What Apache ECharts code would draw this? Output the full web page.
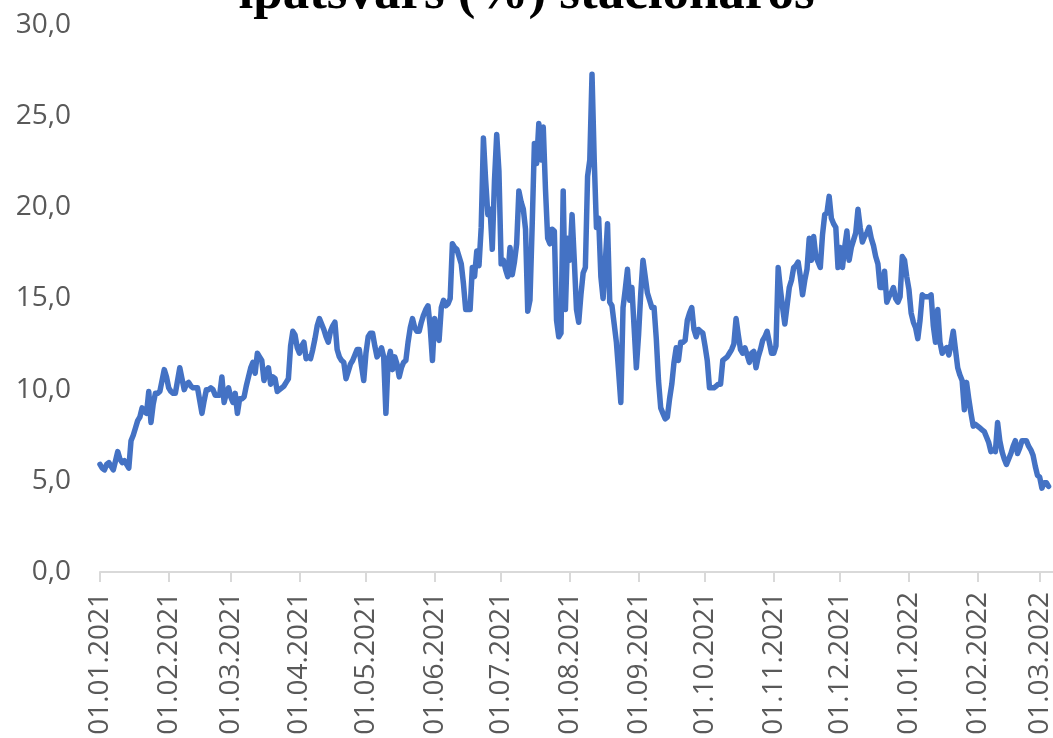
<!DOCTYPE html>
<html>
<head>
<meta charset="utf-8">
<script src="https://cdn.jsdelivr.net/npm/echarts@6/dist/echarts.min.js"></script>
<style>
  html, body { margin: 0; padding: 0; background: #fff; }
  #chart { width: 1053px; height: 738px; }
</style>
</head>
<body>
<div id="chart"></div>
<script>
// dienas vērtības pa mēnešiem (nolasītas no attēla)
const jan21 = [5.9, 5.7, 5.6, 5.9, 6.0, 5.8, 5.6, 6.1, 6.6, 6.2, 6.0, 6.1, 5.9, 5.7, 7.2, 7.5, 7.9, 8.3, 8.5, 9.0,
  8.8, 8.7, 9.9, 8.2, 9.2, 9.8, 9.8, 9.9, 10.5, 11.1, 10.7];
const feb21 = [10.1, 9.9, 9.8, 9.8, 10.5, 11.2, 10.6, 10.0, 10.3, 10.4, 10.2, 10.1, 10.1, 10.1, 9.4, 8.7, 9.4, 10.0,
  10.0, 10.1, 10.0, 9.7, 9.7, 9.7, 10.7, 9.3, 9.8, 10.1];
const mar21 = [9.6, 9.3, 9.8, 8.7, 9.5, 9.5, 9.6, 10.2, 10.7, 11.2, 11.5, 10.9, 12.0, 11.8, 11.6, 10.5, 11.0, 11.2,
  10.3, 10.7, 10.6, 9.9, 10.0, 10.1, 10.2, 10.4, 10.6, 12.4, 13.2, 13.0, 12.3];
const apr21 = [12.0, 12.4, 12.6, 11.7, 11.8, 11.7, 12.2, 12.8, 13.5, 13.9, 13.6, 13.3, 12.9, 12.6, 13.2, 13.5, 13.7,
  12.2, 11.8, 11.6, 11.5, 10.6, 11.0, 11.4, 11.6, 11.9, 12.2, 12.2, 11.3, 10.5];
const may21 = [12.0, 12.9, 13.1, 13.1, 12.4, 11.8, 12.0, 12.3, 11.8, 8.7, 11.6, 12.1, 11.1, 11.8, 11.4, 10.7, 11.2,
  11.5, 11.6, 12.6, 13.4, 13.9, 13.4, 13.2, 13.2, 13.7, 14.1, 14.4, 14.6, 13.4, 11.6];
const jun21 = [13.9, 13.2, 12.7, 14.5, 14.9, 14.6, 14.7, 15.0, 18.0, 17.8, 17.7, 17.3, 16.9, 15.8, 14.4, 14.4, 14.4,
  16.7, 16.2, 17.6, 16.8, 18.9, 23.8, 21.5, 19.6, 19.9, 17.7, 21.5, 24.0, 22.0];
const jul21 = [16.9, 17.1, 16.6, 16.2, 17.8, 16.3, 17.0, 18.0, 20.9, 20.3, 19.9, 18.8, 14.3, 14.9, 19.0, 23.5, 22.4,
  24.6, 22.6, 24.4, 21.0, 18.3, 18.0, 18.8, 18.7, 13.8, 12.9, 13.1, 20.9, 14.4, 18.3];
const aug21 = [17.1, 19.6, 17.1, 14.4, 13.7, 15.2, 16.4, 16.7, 21.7, 22.6, 27.3, 22.6, 18.9, 19.4, 16.2, 15.0, 17.0,
  19.1, 14.8, 14.6, 13.6, 12.6, 11.0, 9.3, 14.5, 15.5, 16.6, 14.9, 15.6, 13.4, 11.2];
const sep21 = [13.0, 15.3, 17.1, 16.2, 15.3, 14.9, 14.5, 14.5, 12.8, 10.5, 9.0, 8.7, 8.4, 8.5, 9.5, 10.3, 11.5, 12.3,
  11.6, 12.6, 12.6, 12.7, 13.8, 14.2, 14.5, 13.3, 12.9, 13.3, 13.2, 13.1];
const oct21 = [12.4, 11.6, 10.1, 10.1, 10.1, 10.2, 10.3, 10.3, 11.6, 11.7, 11.8, 12.0, 12.2, 12.5, 13.9, 13.0, 12.2,
  12.0, 12.3, 11.9, 11.5, 12.0, 12.1, 11.2, 11.8, 12.2, 12.7, 12.9, 13.2, 12.6, 12.0];
const nov21 = [12.0, 12.4, 16.7, 15.5, 14.5, 13.6, 14.6, 15.6, 16.0, 16.7, 16.8, 17.0, 16.2, 15.2, 16.0, 16.6, 18.3,
  17.1, 18.4, 17.3, 17.0, 16.7, 18.5, 19.6, 19.7, 20.6, 19.4, 19.1, 18.9, 16.7];
const dec21 = [17.8, 16.7, 17.8, 18.7, 17.1, 17.8, 18.2, 18.6, 19.9, 18.9, 18.1, 18.4, 18.6, 18.9, 18.3, 17.9, 17.3,
  16.9, 15.6, 15.6, 16.5, 14.8, 15.1, 15.3, 15.6, 15.0, 14.8, 15.1, 17.3, 17.1, 16.2];
const jan22 = [15.5, 14.2, 13.7, 13.4, 12.8, 13.8, 15.2, 15.1, 15.1, 15.1, 15.2, 13.5, 12.6, 14.4, 12.6, 12.0, 12.2,
  12.3, 11.9, 12.5, 13.2, 12.2, 11.2, 10.8, 10.5, 8.9, 10.4, 9.5, 8.7, 8.0, 8.1];
const feb22 = [8.0, 7.9, 7.8, 7.7, 7.4, 7.1, 6.6, 6.7, 6.6, 8.2, 7.2, 6.6, 6.2, 5.9, 6.2, 6.5, 6.9, 7.2, 6.5, 6.8,
  7.2, 7.2, 7.2, 6.9, 6.7, 6.4, 5.8, 5.3];
const mar22 = [5.2, 4.6, 4.9, 4.9, 4.7];

const values = [].concat(jan21, feb21, mar21, apr21, may21, jun21, jul21, aug21, sep21,
  oct21, nov21, dec21, jan22, feb22, mar22);

// datumi uz ass: 01.01.2021 ... 08.03.2022
const startDate = new Date(2021, 0, 1);
const dayCount = 431;
const dates = [];
for (let i = 0; i < dayCount; i++) {
  const d = new Date(startDate.getFullYear(), startDate.getMonth(), startDate.getDate() + i);
  const dd = String(d.getDate()).padStart(2, '0');
  const mm = String(d.getMonth() + 1).padStart(2, '0');
  dates.push(dd + '.' + mm + '.' + d.getFullYear());
}

const isMonthStart = (idx, val) => val.slice(0, 2) === '01';

const chart = echarts.init(document.getElementById('chart'));
chart.setOption({
  animation: false,
  title: {
    text: 'īpatsvars (%) stacionāros',
    left: 'center',
    top: -37,
    textStyle: {
      fontFamily: 'Liberation Serif',
      fontWeight: 'bold',
      fontSize: 53,
      color: '#000'
    }
  },
  grid: {
    left: 100,
    right: 0,
    top: 25,
    bottom: 166,
    containLabel: false,
    outerBoundsMode: 'none'
  },
  xAxis: {
    type: 'category',
    data: dates,
    boundaryGap: false,
    axisLine: { lineStyle: { color: '#d9d9d9', width: 2 } },
    axisTick: {
      interval: isMonthStart,
      length: 10,
      lineStyle: { color: '#d9d9d9', width: 2 }
    },
    axisLabel: {
      interval: isMonthStart,
      rotate: 90,
      margin: 20,
      fontFamily: 'Open Sans',
      fontSize: 28,
      color: '#595959'
    },
    splitLine: { show: false }
  },
  yAxis: {
    type: 'value',
    min: 0,
    max: 30,
    interval: 5,
    axisLine: { show: false },
    axisTick: { show: false },
    splitLine: { show: false },
    axisLabel: {
      margin: 29,
      fontFamily: 'Open Sans',
      fontSize: 28,
      color: '#595959',
      formatter: v => v.toFixed(1).replace('.', ',')
    }
  },
  series: [{
    type: 'line',
    data: values,
    showSymbol: false,
    lineStyle: { color: '#4472C4', width: 5.5, cap: 'round', join: 'round' }
  }]
});
window.addEventListener('resize', function () {
  chart.resize();
});
</script>
</body>
</html>
